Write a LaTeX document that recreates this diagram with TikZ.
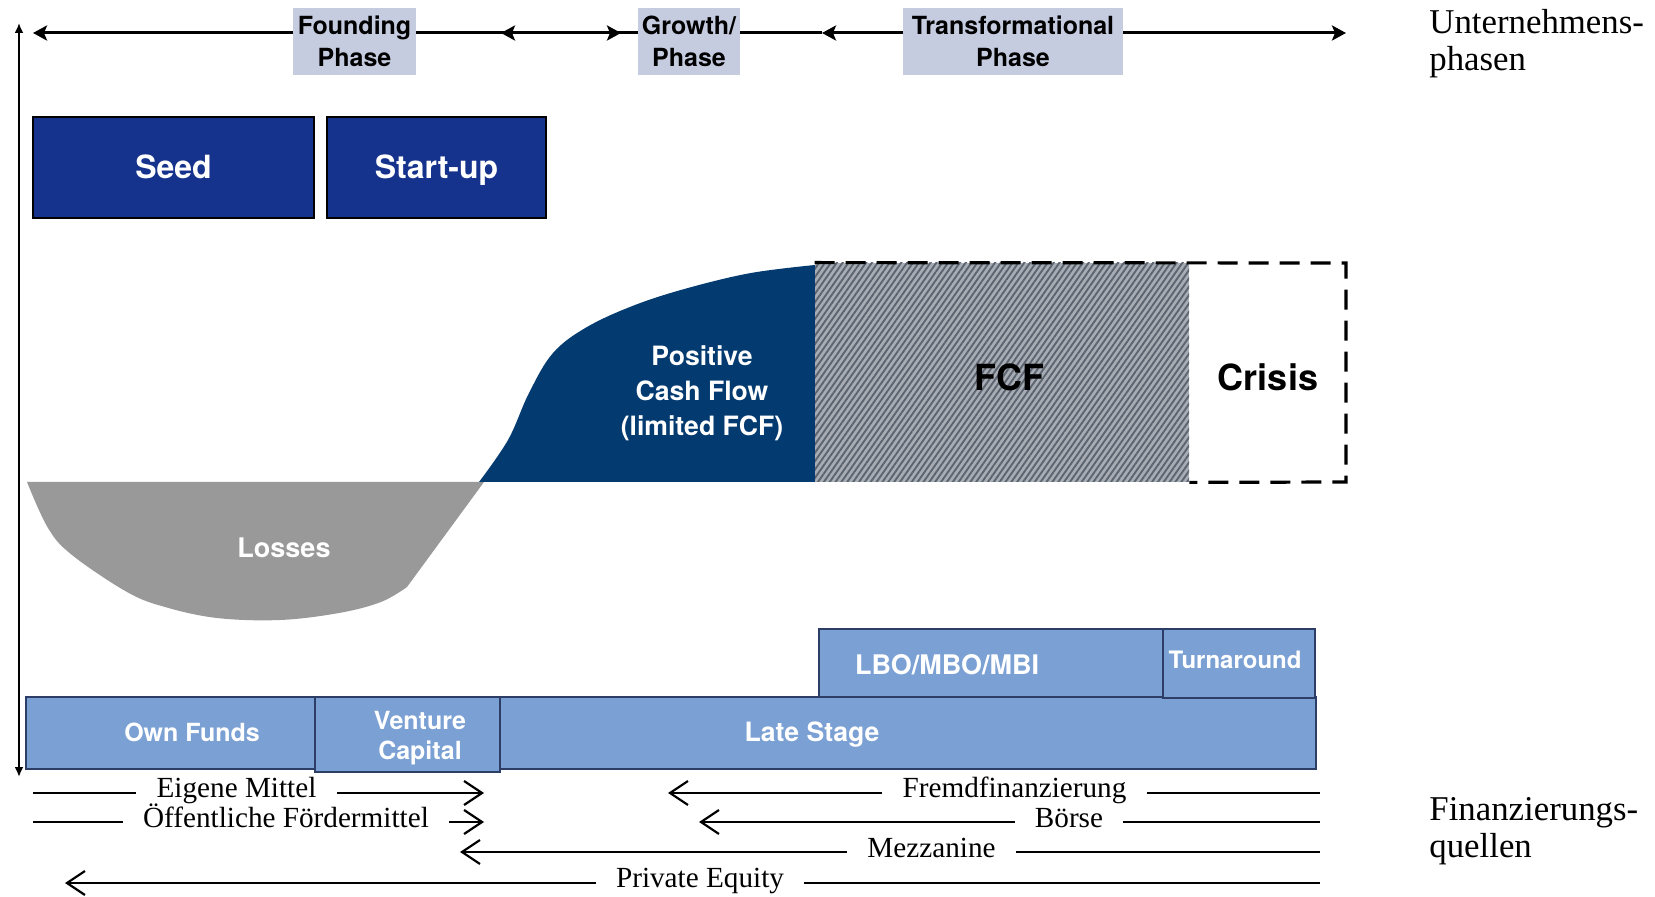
\documentclass[tikz,border=0pt]{standalone}
\usepackage{fontspec}
\setmainfont{Liberation Serif}
\setsansfont{TeX Gyre Heros}
\usetikzlibrary{arrows.meta,patterns.meta}

\definecolor{phasebg}{HTML}{C6CCE0}
\definecolor{stagenavy}{HTML}{15338C}
\definecolor{cashnavy}{HTML}{033A70}
\definecolor{lossgray}{HTML}{999999}
\definecolor{fundblue}{HTML}{7BA0D4}
\definecolor{fundedge}{HTML}{2C3E66}
\definecolor{hatchbg}{HTML}{A8ACB4}
\definecolor{hatchline}{HTML}{5C6470}

\newcommand{\hvb}[2]{\fontsize{#1}{#2}\selectfont\sffamily\bfseries}
\newcommand{\pal}[2]{\fontsize{#1}{#2}\selectfont\rmfamily}

\begin{document}
\begin{tikzpicture}[x=0.5pt,y=-0.5pt,
  phase/.style={fill=phasebg, inner sep=0pt, align=center, font=\hvb{12.5}{16}, minimum height=33.5pt},
  stagebox/.style={fill=stagenavy, draw=black, line width=0.8pt, text=white, font=\hvb{16}{19}, minimum height=50.5pt, inner sep=0pt, text height=11.5pt, text depth=0pt},
  fundbox/.style={fill=fundblue, draw=fundedge, line width=0.6pt, inner sep=0pt},
  fundtext/.style={text=white, font=\hvb{12.5}{15}, align=center, inner sep=0pt},
  src/.style={font=\pal{14.6}{17}, anchor=base, inner xsep=10pt, inner ysep=0pt},
  sidelabel/.style={font=\pal{17.4}{18.5}, align=left, anchor=north west, inner sep=0pt},
  phaseline/.style={line width=1.5pt},
  phtip/.style={-{Stealth[length=7pt,width=7.5pt,inset=1.5pt]}},
  flowthin/.style={line width=0.9pt},
  flowthick/.style={line width=1.2pt},
  flowarrow/.style={-{Straight Barb[length=9pt,width=12pt,line width=1.1pt]}},
  fcfbox/.style={fill=hatchbg, inner sep=0pt,
    postaction={pattern={Lines[angle=55,distance=2.4pt,line width=0.95pt]}, pattern color=hatchline}},
  crisisframe/.style={line width=1.6pt, dash pattern=on 10pt off 5.5pt}
]
\useasboundingbox (0,0) rectangle (1655,897);

% ---- company phases along the top ----
\coordinate (ta) at (33,33);
\coordinate (tb) at (501,33);
\coordinate (tc) at (621,33);
\coordinate (td) at (822,33);
\coordinate (te) at (1346,33);
\node[phase, minimum width=61.5pt] (found) at (354.5,41.5) {Founding\\Phase};
\node[phase, minimum width=51pt] (growth) at (689,41.5) {Growth/\\Phase};
\node[phase, minimum width=110pt] (trans) at (1013,41.5) {Transformational\\Phase};

\draw[phaseline, {Stealth[length=7pt,width=7.5pt,inset=1.5pt]}-] (ta) -- (found.west |- ta);
\draw[phaseline, phtip] (found.east |- tc) -- (tc);
\draw[phaseline, phtip] (growth.west |- tb) -- (tb);
\draw[phaseline] (growth.east |- td) -- (td);
\draw[phaseline, phtip] (trans.west |- td) -- (td);
\draw[phaseline, phtip] (trans.east |- te) -- (te);

\node[sidelabel] (uphase) at (1429,9) {Unternehmens-\\phasen};

% ---- vertical axis ----
\coordinate (vt) at (19,23);
\coordinate (vb) at (19,777);
\draw[line width=1pt, {Latex[length=5pt,width=4.5pt]}-{Latex[length=5pt,width=4.5pt]}] (vt) -- (vb);

% ---- stages ----
\node[stagebox, minimum width=140.5pt] (seed) at (173.5,167.5) {Seed};
\node[stagebox, minimum width=109.5pt] (startup) at (436.5,167.5) {Start-up};

% ---- cash flow curve ----
\fill[lossgray] plot[smooth, tension=0.6] coordinates {(27,482) (48,528) (72,555) (127,592) (165,607) (217,618) (280,620) (339,613) (381,602) (407,587)} -- (484,482) -- cycle;
\fill[cashnavy] plot[smooth, tension=0.6] coordinates {(479,482) (508,440) (529,393) (553,353) (587,327) (635,305) (688,288) (751,273) (815,265)} -- (815,482) -- cycle;

\node[fcfbox, minimum width=187pt, minimum height=109.5pt] (fcf) at (1002,372.5) {};
\node[font=\hvb{18}{21}] (fcfT) at (1009,377) {FCF};
\coordinate (cr1) at (1346,263);
\coordinate (cr2) at (1346,482);
\draw[crisisframe] (fcf.north west) -- (cr1) -- (cr2) -- (fcf.south east);
\node[font=\hvb{18}{21}] (crisis) at (1268,377) {Crisis};

\node[text=white, font=\hvb{13.3}{17.5}, align=center] (pcf) at (702,393) {Positive\\Cash Flow\\(limited FCF)};
\node[text=white, font=\hvb{13.5}{16}] (loss) at (284,548) {Losses};

% ---- financing blocks ----
\node[fundbox, minimum width=408pt, minimum height=36pt] (late) at (908,733) {};
\node[fundbox, minimum width=92.5pt, minimum height=37.5pt] (venture) at (407.5,734.5) {};
\node[fundbox, minimum width=144.5pt, minimum height=36pt] (own) at (170.5,733) {};
\node[fundbox, minimum width=172pt, minimum height=34pt] (lbo) at (991,663) {};
\node[fundbox, minimum width=76pt, minimum height=34.5pt] (turn) at (1239,663.5) {};

\node[fundtext] (ownT) at (192,732) {Own Funds};
\node[fundtext, font=\hvb{12.5}{15}] (ventT) at (420,738) {Venture\\Capital};
\node[fundtext, font=\hvb{13.3}{16}] (lateT) at (812,735) {Late Stage};
\node[fundtext, font=\hvb{13.5}{16}] (lboT) at (947,665) {LBO/MBO/MBI};
\node[fundtext, font=\hvb{12}{15}] (turnT) at (1235,660) {Turnaround};

% ---- financing sources ----
\coordinate (e0) at (33,793);
\coordinate (e1) at (484,793);
\node[src] (eT) at (236.5,798) {Eigene Mittel};
\draw[flowthin] (e0) -- (eT.west |- e0);
\draw[flowthin, flowarrow] (eT.east |- e0) -- (e1);

\coordinate (f0) at (668,793);
\coordinate (f1) at (1320,793);
\node[src] (fT) at (1014.5,798) {Fremdfinanzierung};
\draw[flowthin, flowarrow] (fT.west |- f0) -- (f0);
\draw[flowthin] (fT.east |- f1) -- (f1);

\coordinate (o0) at (33,822);
\coordinate (o1) at (484,822);
\node[src] (oT) at (286,827) {Öffentliche Fördermittel};
\draw[flowthick] (o0) -- (oT.west |- o0);
\draw[flowthick, flowarrow] (oT.east |- o0) -- (o1);

\coordinate (b0) at (699,822);
\coordinate (b1) at (1320,822);
\node[src] (bT) at (1069,827) {Börse};
\draw[flowthick, flowarrow] (bT.west |- b0) -- (b0);
\draw[flowthick] (bT.east |- b1) -- (b1);

\coordinate (m0) at (460,852);
\coordinate (m1) at (1320,852);
\node[src] (mT) at (931.5,857) {Mezzanine};
\draw[line width=1pt, flowarrow] (mT.west |- m0) -- (m0);
\draw[line width=1pt] (mT.east |- m1) -- (m1);

\coordinate (p0) at (65,883);
\coordinate (p1) at (1320,883);
\node[src] (pT) at (700,887) {Private Equity};
\draw[flowthick, flowarrow] (pT.west |- p0) -- (p0);
\draw[flowthick] (pT.east |- p1) -- (p1);

\node[sidelabel] (fquel) at (1429,797) {Finanzierungs-\\quellen};

\end{tikzpicture}
\end{document}
